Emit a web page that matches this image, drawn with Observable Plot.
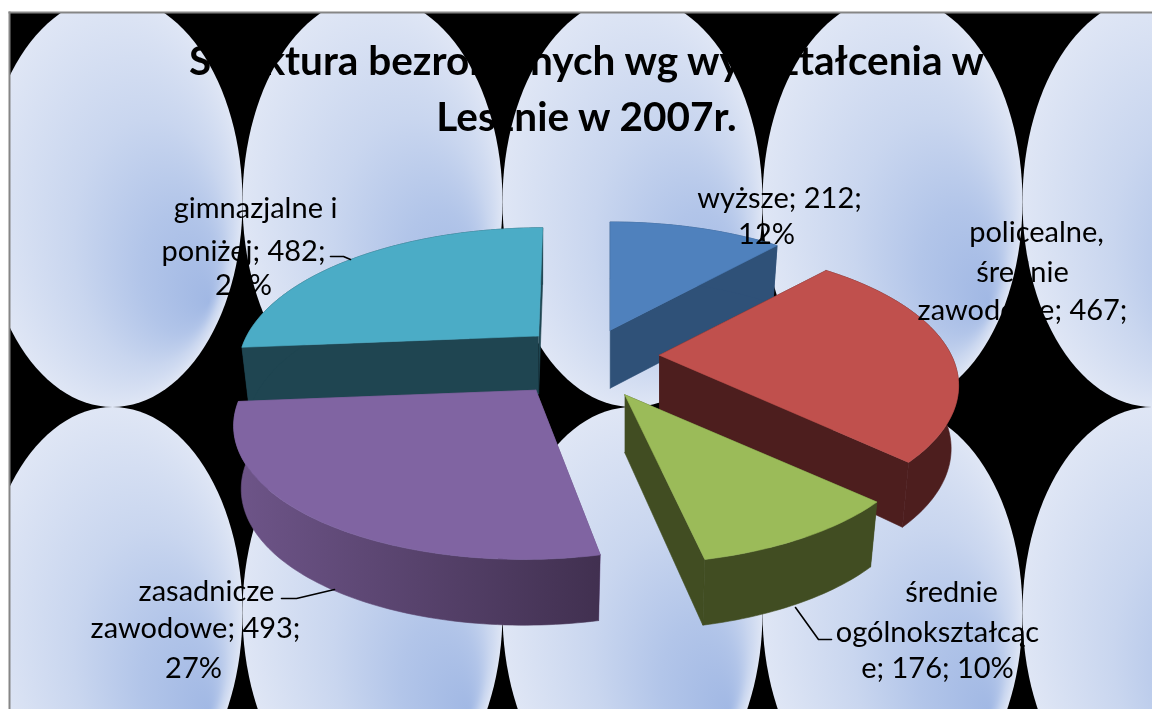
<!DOCTYPE html>
<html><head><meta charset="utf-8">
<script src="https://cdn.jsdelivr.net/npm/d3@7"></script>
<script src="https://cdn.jsdelivr.net/npm/@observablehq/plot@0.6"></script>
<style>
html,body{margin:0;padding:0;background:#fff}
svg{display:block}
.pie{filter:blur(.55px)}
.lbl{filter:blur(.25px)}
</style></head><body><div id="chart"></div>
<script>
// Data
const categories = ["wyższe","policealne, średnie zawodowe","średnie ogólnokształcące","zasadnicze zawodowe","gimnazjalne i poniżej"];
const values = [212,467,176,493,482];
const titleLines = ["Struktura bezrobotnych wg wykształcenia w","Lesznie w 2007r."];
const labelLines = [
  ["wyższe; 212;","12%"],
  ["policealne,","średnie","zawodowe; 467;"],
  ["średnie","ogólnokształcąc","e; 176; 10%"],
  ["zasadnicze","zawodowe; 493;","27%"],
  ["gimnazjalne i","poniżej; 482;","26%"]
];
// Styling and layout (separate from data)
const topColors = ["#4f81bd","#c0504d","#9bbb59","#8064a2","#4bacc6"];
const sideColors = ["#2f5178","#4d1e1e","#414d22","url(#purpleSide)","#1f4551"];
const radialColors = ["#2f5178","#4d1e1e","#414d22","#6b5285","#1f4551"];
const drawOrder = [0,4,1,3,2];
const apexNudge = [[0,-6],[1,-9],[2,-1],[-4,-3],[5,-8]];
const skew = [0,0,-4,12,4];
const W=1152,H=709,L=9,T=12;
const cx=585,cy=365,A=292,B=132,k=.22,explode=.25;
const proj=(X,Y)=>{const w=1+k*Y;return [A*X/w,-B*Y/w];};
const total=d3.sum(values);
let acc=0;
const slices=values.map((v,i)=>{const a0=acc/total*2*Math.PI;acc+=v;const a1=acc/total*2*Math.PI;return {i,a0,a1,mid:(a0+a1)/2};});
const polys=[];
const pts=a=>a.map(([x,y])=>({x,y}));
for(const i of drawOrder){
  const s=slices[i];
  const o=proj(explode*Math.sin(s.mid),explode*Math.cos(s.mid));
  const ax=cx+o[0]+apexNudge[i][0],ay=cy+o[1]+apexNudge[i][1];
  const n=Math.ceil((s.a1-s.a0)/0.02);
  const rim=d3.range(n+1).map(j=>{
    const t=s.a0+(s.a1-s.a0)*j/n;
    const v=proj(Math.sin(t),Math.cos(t));
    v[0]+=skew[i]*Math.cos(t);
    return {top:[ax+v[0],ay+v[1]],low:[ax+v[0]*.975,ay+v[1]*.975+62-8*Math.cos(t)]};
  });
  const aLow=[ax,ay+58];
  const apex=[ax,ay];
  const r0=rim[0],r1=rim[n];
  polys.push({p:pts([apex,r0.top,r0.low,aLow]),fill:radialColors[i]});
  polys.push({p:pts([apex,r1.top,r1.low,aLow]),fill:radialColors[i]});
  polys.push({p:pts([...rim.map(d=>d.top),...rim.map(d=>d.low).reverse()]),fill:sideColors[i]});
  polys.push({p:pts([apex,...rim.map(d=>d.top),apex]),fill:topColors[i]});
}
// Background tile lattice
const tileW=260,tileH=411,tileX0=112,tileY0=201;
const tiles=[];
d3.range(5).forEach(c=>d3.range(2).forEach(r=>{
  const id=c+"-"+r,x0=tileX0+c*tileW,y0=tileY0+r*tileH;
  d3.range(0,121).forEach(j=>{const t=j/120*2*Math.PI;
    tiles.push({id,x:x0+tileW/2*Math.cos(t),y:y0+tileH/2*Math.sin(t)});});
}));
// Label layout
const labelPos=[
  [[779,198],[766,234]],
  [[1036,232],[1022,272],[1022,310]],
  [[951,592],[937,632],[937,668]],
  [[206,591],[195,628],[193,668]],
  [[255,208],[243,251],[243,285]]
];
const labelRows=labelLines.flatMap((ls,i)=>ls.map((t,j)=>({t,x:labelPos[i][j][0],y:labelPos[i][j][1]})));
const leaders=[
  {p:[[330,256],[343,256],[350,259]]},
  {p:[[281,598],[296,598],[334,589]]},
  {p:[[795,607],[818,639],[831,639]]}
];
const chart=Plot.plot({
  width:W,height:H,marginLeft:L,marginTop:T,marginRight:0,marginBottom:0,
  x:{domain:[L,W],range:[L,W],axis:null},
  y:{domain:[T,H],range:[T,H],axis:null},
  style:{background:"#fff",fontFamily:"Lato, sans-serif",color:"#000"},
  marks:[
    Plot.frame({fill:"#000",stroke:"none"}),
    Plot.line(tiles,{x:"x",y:"y",z:"id",fill:"url(#tile)",stroke:"none",clip:true}),
    Plot.frame({anchor:"left",stroke:"#868686",strokeWidth:2}),
    Plot.frame({anchor:"top",stroke:"#868686",strokeWidth:2}),
    ...polys.map(d=>Plot.line(d.p,{x:"x",y:"y",fill:d.fill,stroke:d.fill,strokeWidth:.6,className:"face"})),
    ...leaders.map(d=>Plot.line(pts(d.p),{x:"x",y:"y",stroke:"#000",strokeWidth:1.6})),
    Plot.text(labelRows,{x:"x",y:"y",text:"t",fontSize:29,fill:"#000",textAnchor:"middle",lineAnchor:"middle",className:"lbl"}),
    Plot.text(titleLines.map((t,i)=>({t,y:[62,118][i]})),{x:586,y:"y",text:"t",fontSize:40.5,fontWeight:700,fill:"#000",textAnchor:"middle",lineAnchor:"middle",className:"lbl"})
  ]
});
const defs=d3.select(chart).insert("defs",":first-child");
const g=defs.append("radialGradient").attr("id","tile").attr("cx",.5).attr("cy",.5).attr("r",.5).attr("fx",.87).attr("fy",.745);
[[0,"#a1b8e4"],[.3,"#b2c5e9"],[.6,"#c9d6ef"],[1,"#dfe6f5"]].forEach(([o,c])=>g.append("stop").attr("offset",o).attr("stop-color",c));
const ps=defs.append("linearGradient").attr("id","purpleSide");
[[0,"#6e5589"],[1,"#413050"]].forEach(([o,c])=>ps.append("stop").attr("offset",o).attr("stop-color",c));
// group the pie faces so one soft edge covers the whole solid
const faces=chart.querySelectorAll(".face");
const pie=document.createElementNS("http://www.w3.org/2000/svg","g");
pie.setAttribute("class","pie");
faces[0].before(pie);
faces.forEach(f=>pie.append(f));
document.getElementById("chart").append(chart);
</script></body></html>
